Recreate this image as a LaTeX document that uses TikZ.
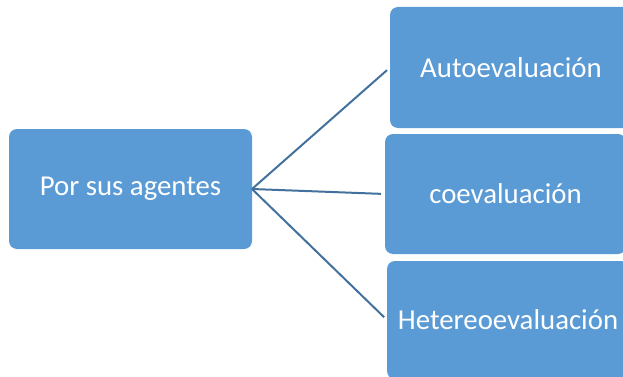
\documentclass[tikz,border=0pt]{standalone}
\usepackage{fontspec}
\setmainfont{Carlito}
\usetikzlibrary{positioning}
\definecolor{boxblue}{HTML}{5B9BD5}
\definecolor{lineblue}{HTML}{41719C}
\begin{document}
\begin{tikzpicture}[x=1pt,y=-1pt,
       agentbox/.style={fill=boxblue,rounded corners=8pt,inner sep=0pt,outer sep=0pt,
         minimum width=242pt,minimum height=120pt,text=white,
         font=\fontsize{28.8}{34}\selectfont},
       link/.style={draw=lineblue,line width=2pt,shorten >=4pt}]
       \useasboundingbox (0,0) rectangle (623,377);
       \clip (0,0) rectangle (623,377);

       \coordinate (P) at (130.5,189.0);
       \coordinate (A) at (511.0,67.5);
       \coordinate (C) at (505.5,194.0);
       \coordinate (H) at (508.0,320.0);

       \node[agentbox,minimum width=243pt] (agentes) at (P) {Por sus agentes};
       \node[agentbox,minimum height=121pt] (auto) at (A) {Autoevaluación};
       \node[agentbox,minimum width=241pt] (co) at (C) {coevaluación};
       \node[agentbox,minimum height=118pt] (hetero) at (H) {Hetereoevaluación};

       \draw[link] (agentes.east) -- (auto.west);
       \draw[link] (agentes.east) -- (co.west);
       \draw[link] (agentes.east) -- (hetero.west);
     \end{tikzpicture}
\end{document}
